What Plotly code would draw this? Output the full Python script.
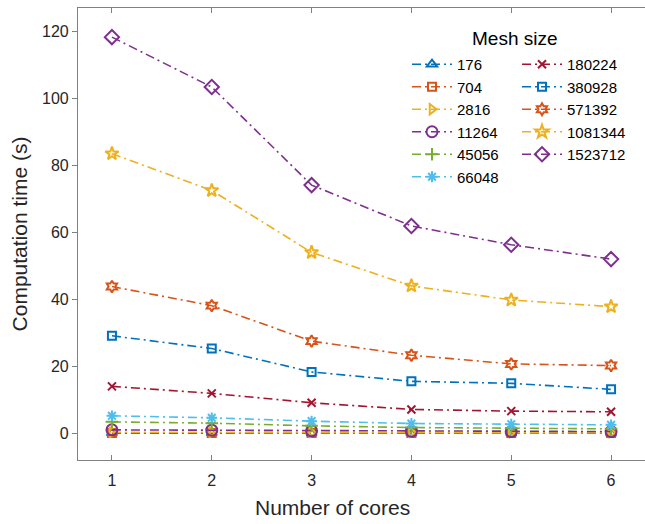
import plotly.graph_objects as go

cores = [1, 2, 3, 4, 5, 6]
mesh_sizes = ["176", "704", "2816", "11264", "45056", "66048",
              "180224", "380928", "571392", "1081344", "1523712"]
t176 = [0.03, 0.03, 0.02, 0.02, 0.02, 0.02]
t704 = [0.09, 0.08, 0.07, 0.06, 0.06, 0.05]
t2816 = [0.3, 0.27, 0.21, 0.18, 0.16, 0.15]
t11264 = [1.0, 0.9, 0.7, 0.6, 0.5, 0.5]
t45056 = [3.4, 3.0, 2.2, 1.7, 1.5, 1.3]
t66048 = [5.2, 4.6, 3.6, 2.9, 2.7, 2.5]
t180224 = [14.0, 11.9, 9.1, 7.1, 6.6, 6.4]
t380928 = [29.1, 25.3, 18.3, 15.5, 14.9, 13.1]
t571392 = [43.8, 38.1, 27.5, 23.3, 20.7, 20.2]
t1081344 = [83.5, 72.5, 54.0, 44.0, 39.8, 37.8]
t1523712 = [118.3, 103.4, 74.1, 61.9, 56.3, 52.0]
series = [t176, t704, t2816, t11264, t45056, t66048,
          t180224, t380928, t571392, t1081344, t1523712]

colors = ["#0072BD", "#D95319", "#EDB120", "#7E2F8E", "#77AC30", "#4DBEEE",
          "#A2142F", "#0072BD", "#D95319", "#EDB120", "#7E2F8E"]
symbols = ["triangle-up-open", "square-open", "triangle-right-open", "circle-open",
           "cross-thin-open", "asterisk-open", "x-thin-open", "square-open",
           "hexagram-open", "star-open", "diamond-open"]
sizes = [9, 8, 9, 11, 9, 9, 8, 8, 9, 10, 11]

fig = go.Figure()
for i, (name, y) in enumerate(zip(mesh_sizes, series)):
    fig.add_trace(go.Scatter(
        x=cores, y=y, name=name, mode="lines+markers",
        line=dict(color=colors[i], width=1.6, dash="9px,4px,2px,4px"),
        marker=dict(symbol=symbols[i], size=sizes[i], color=colors[i],
                    line=dict(color=colors[i], width=2)),
        legend="legend" if i < 6 else "legend2",
    ))

L, R, T, B = 78, 0, 8, 64
W, H = 645, 524
pw, ph = W - L - R, H - T - B

def px(x):
    return (x - L) / pw

def py(y):
    return (H - B - y) / ph

FONT = "Liberation Sans, Arial, sans-serif"
legend_common = dict(
    font=dict(family=FONT, size=15, color="#000"),
    bgcolor="rgba(255,255,255,0)", borderwidth=0,
    xanchor="left", yanchor="top", tracegroupgap=0, itemwidth=40,
)

fig.update_layout(
    width=W, height=H,
    margin=dict(l=L, r=R, t=T, b=B),
    paper_bgcolor="white", plot_bgcolor="white",
    font=dict(family=FONT, size=16, color="#262626"),
    legend=dict(x=px(407), y=py(48), **legend_common),
    legend2=dict(x=px(517), y=py(48), **legend_common),
    xaxis=dict(range=[0.66, 6.34], tickvals=cores, ticks="inside", ticklen=5,
               tickcolor="#808080", showline=True, linecolor="#808080", linewidth=1.2,
               mirror="ticks", showgrid=False, zeroline=False,
               ticklabelstandoff=6,
               tickfont=dict(size=16, color="#262626")),
    yaxis=dict(range=[-8, 127], tickvals=[0, 20, 40, 60, 80, 100, 120], ticks="outside",
               ticklen=5, tickcolor="#808080", showline=True, linecolor="#808080",
               linewidth=1.2, mirror=True, showgrid=False, zeroline=False,
               title=dict(text="Computation time (s)", font=dict(size=21, color="#262626"), standoff=8),
               tickfont=dict(size=16, color="#262626")),
    annotations=[
        dict(text="Mesh size", x=px(515), y=py(38), xref="paper", yref="paper",
             showarrow=False, xanchor="center", yanchor="middle",
             font=dict(size=19, color="#000")),
        dict(text="Number of cores", x=px(332), y=py(507), xref="paper", yref="paper",
             showarrow=False, xanchor="center", yanchor="middle",
             font=dict(size=21, color="#262626")),
    ],
)

fig.write_html("out.html")
